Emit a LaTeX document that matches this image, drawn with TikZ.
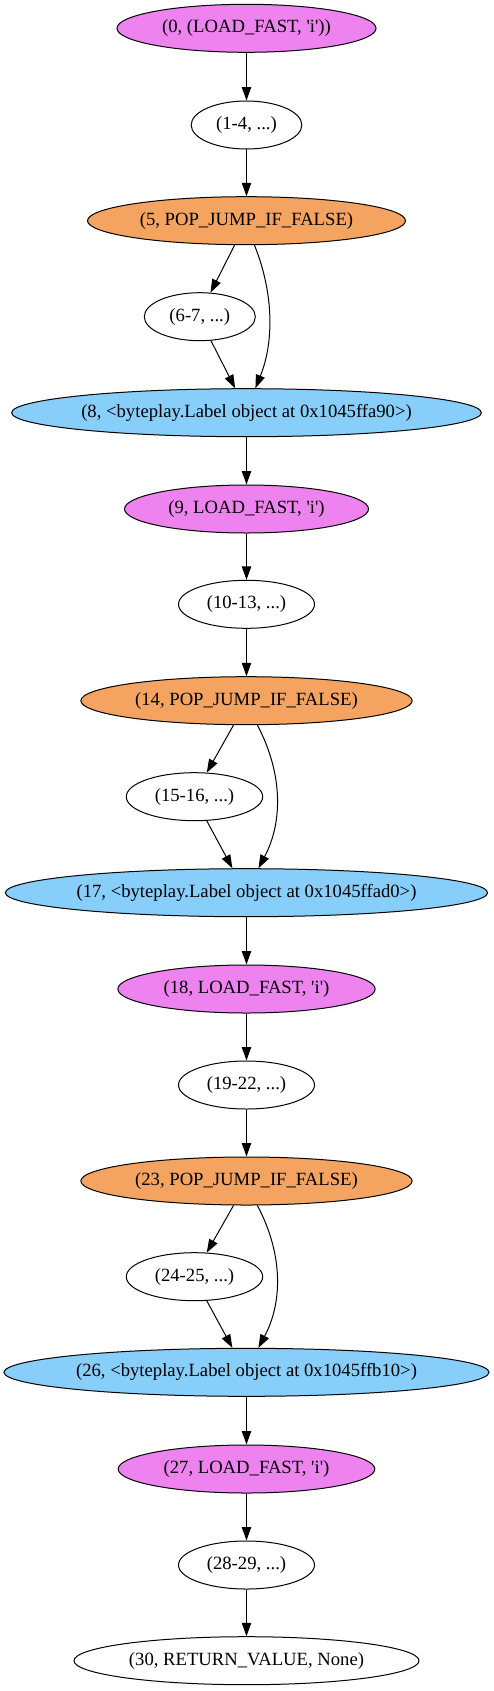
\documentclass[tikz,border=0pt]{standalone}
\usepackage{fontspec}
\setmainfont{Liberation Serif}
\usetikzlibrary{shapes.geometric,arrows.meta}
\definecolor{gvviolet}{HTML}{EE82EE}
\definecolor{gvsandy}{HTML}{F4A460}
\definecolor{gvsky}{HTML}{87CEFA}
\newcommand{\qq}{\textquotesingle}
\newcommand{\gvt}[1]{\makebox[0pt]{#1}}
\begin{document}
\begin{tikzpicture}[x=0.75pt,y=-0.75pt,
  gvnode/.style={ellipse,draw=black,line width=0.75pt,inner sep=0pt,minimum height=36pt,font=\fontsize{14}{16}\selectfont},
  loadnode/.style={gvnode,fill=gvviolet},
  jumpnode/.style={gvnode,fill=gvsandy},
  labelnode/.style={gvnode,fill=gvsky},
  plainnode/.style={gvnode,fill=white},
  arr/.style={-{Triangle[length=10pt,width=7pt]},line width=0.75pt}]
\useasboundingbox (0,0) rectangle (493,1691);

\node[loadnode,minimum width=194.3pt] (n0) at (246.5,28.3) {\gvt{(0, (LOAD\_FAST, \qq i\qq))}};
\node[plainnode,minimum width=83pt] (n1) at (246.5,125) {\gvt{(1-4, ...)}};
\node[jumpnode,minimum width=238.5pt] (n5) at (246.5,220.7) {\gvt{(5, POP\_JUMP\_IF\_FALSE)}};
\node[plainnode,minimum width=83.3pt] (n6) at (199.8,316.7) {\gvt{(6-7, ...)}};
\node[labelnode,minimum width=352.3pt] (n8) at (246.5,412.7) {\gvt{(8, <byteplay.Label object at 0x1045ffa90>)}};
\node[loadnode,minimum width=183pt] (n9) at (246.5,509) {\gvt{(9, LOAD\_FAST, \qq i\qq)}};
\node[plainnode,minimum width=102pt] (n10) at (246.5,604.3) {\gvt{(10-13, ...)}};
\node[jumpnode,minimum width=248.5pt] (n14) at (246.5,700.7) {\gvt{(14, POP\_JUMP\_IF\_FALSE)}};
\node[plainnode,minimum width=102.3pt] (n15) at (194.5,796.7) {\gvt{(15-16, ...)}};
\node[labelnode,minimum width=361.7pt] (n17) at (246.5,892.7) {\gvt{(17, <byteplay.Label object at 0x1045ffad0>)}};
\node[loadnode,minimum width=193pt] (n18) at (246.5,989) {\gvt{(18, LOAD\_FAST, \qq i\qq)}};
\node[plainnode,minimum width=102pt] (n19) at (246.5,1085) {\gvt{(19-22, ...)}};
\node[jumpnode,minimum width=248.5pt] (n23) at (246.5,1181) {\gvt{(23, POP\_JUMP\_IF\_FALSE)}};
\node[plainnode,minimum width=102.3pt] (n24) at (194.5,1276.7) {\gvt{(24-25, ...)}};
\node[labelnode,minimum width=363.8pt] (n26) at (246.5,1372.3) {\gvt{(26, <byteplay.Label object at 0x1045ffb10>)}};
\node[loadnode,minimum width=192.5pt] (n27) at (246.5,1469) {\gvt{(27, LOAD\_FAST, \qq i\qq)}};
\node[plainnode,minimum width=102pt] (n28) at (246.5,1565) {\gvt{(28-29, ...)}};
\node[plainnode,minimum width=258.8pt] (n30) at (246.5,1660.7) {\gvt{(30, RETURN\_VALUE, None)}};

\draw[arr] (n0) -- (n1);
\draw[arr] (n1) -- (n5);
\draw[arr] (n5.244.25) -- (n6.66.4);
\draw[arr] (n6.295) -- (n8.115.2);
\draw[arr] (n5.288) .. controls +(19,47) and +(19,-47) .. (n8.70.8);
\draw[arr] (n8) -- (n9);
\draw[arr] (n9) -- (n10);
\draw[arr] (n10) -- (n14);
\draw[arr] (n14.242.1) -- (n15.63);
\draw[arr] (n15.297.8) -- (n17.120.3);
\draw[arr] (n14.294.6) .. controls +(25,47) and +(25,-47) .. (n17.64.2);
\draw[arr] (n17) -- (n18);
\draw[arr] (n18) -- (n19);
\draw[arr] (n19) -- (n23);
\draw[arr] (n23.242.1) -- (n24.63);
\draw[arr] (n24.297.8) -- (n26.120.3);
\draw[arr] (n23.294.6) .. controls +(25,47) and +(25,-47) .. (n26.64.2);
\draw[arr] (n26) -- (n27);
\draw[arr] (n27) -- (n28);
\draw[arr] (n28) -- (n30);
\end{tikzpicture}
\end{document}
